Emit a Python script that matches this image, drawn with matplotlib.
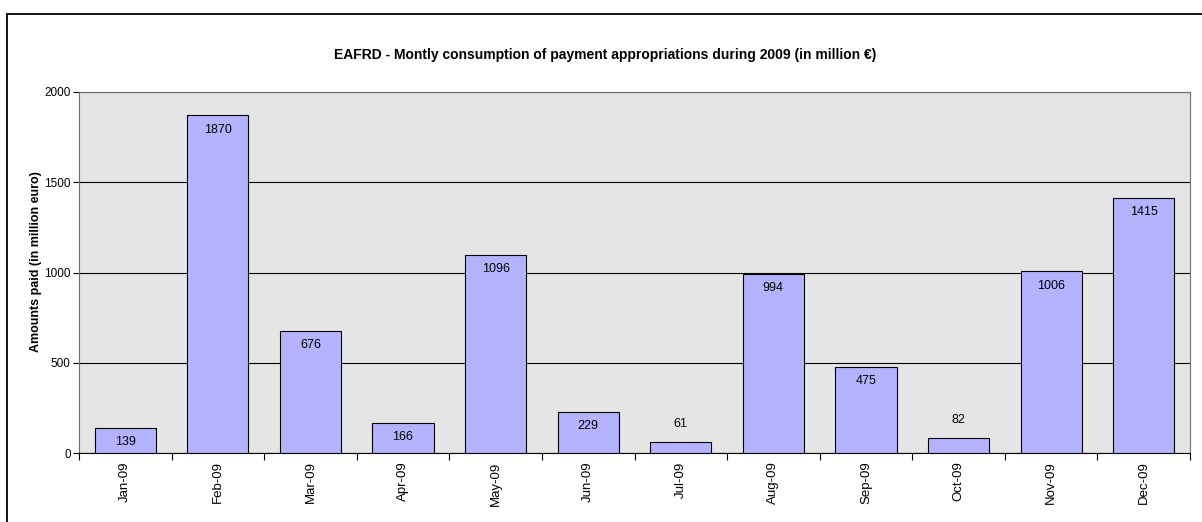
import numpy as np
import matplotlib.pyplot as plt
from matplotlib.patches import Rectangle

months = ['Jan-09', 'Feb-09', 'Mar-09', 'Apr-09', 'May-09', 'Jun-09',
          'Jul-09', 'Aug-09', 'Sep-09', 'Oct-09', 'Nov-09', 'Dec-09']
amounts = [139, 1870, 676, 166, 1096, 229, 61, 994, 475, 82, 1006, 1415]

plt.rcParams['font.family'] = ['Liberation Sans', 'DejaVu Sans']

fig = plt.figure(figsize=(12.02, 5.22), dpi=100)
# outer chart border
fig.patches.append(Rectangle((7 / 1202, -0.1), 1.1, 1.1 - 14 / 522,
                             transform=fig.transFigure, fill=False,
                             edgecolor='black', linewidth=1.3))

ax = fig.add_axes([79 / 1202, 1 - 453 / 522, (1190 - 79) / 1202, (453 - 92) / 522])
ax.set_facecolor('#e5e5e5')

x = np.arange(len(months))
ax.bar(x, amounts, width=0.66, color='#b3b3ff', edgecolor='black', linewidth=0.8, zorder=3)

for xi, v in zip(x, amounts):
    if v >= 120:
        ax.text(xi, v - 45, str(v), ha='center', va='top', fontsize=9, zorder=4)
    else:
        ax.text(xi, v + 65, str(v), ha='center', va='bottom', fontsize=9, zorder=4)

ax.set_xlim(-0.5, len(months) - 0.5)
ax.set_ylim(0, 2000)
ax.set_yticks([0, 500, 1000, 1500, 2000])
ax.yaxis.grid(True, color='black', linewidth=0.8, zorder=1)
ax.set_xticks(np.arange(-0.5, len(months), 1))
ax.set_xticklabels([])
ax.set_xticks(x, minor=True)
ax.set_xticklabels(months, minor=True, rotation=90, fontsize=9.5)
ax.tick_params(axis='x', which='minor', length=0, pad=6)
ax.tick_params(axis='x', which='major', length=5, direction='out')
ax.tick_params(axis='y', labelsize=8.5, length=4, pad=2)

for s in ['top', 'right', 'left']:
    ax.spines[s].set_color('#707070')
ax.spines['bottom'].set_color('black')

ax.set_ylabel('Amounts paid (in million euro)', fontsize=9, fontweight='bold')
ax.yaxis.set_label_coords(-0.033, 0.53)
fig.text(605 / 1202, 1 - 55 / 522,
         'EAFRD - Montly consumption of payment appropriations during 2009 (in million €)',
         ha='center', va='center', fontsize=10, fontweight='bold')

fig.savefig('out.png', dpi=100)
